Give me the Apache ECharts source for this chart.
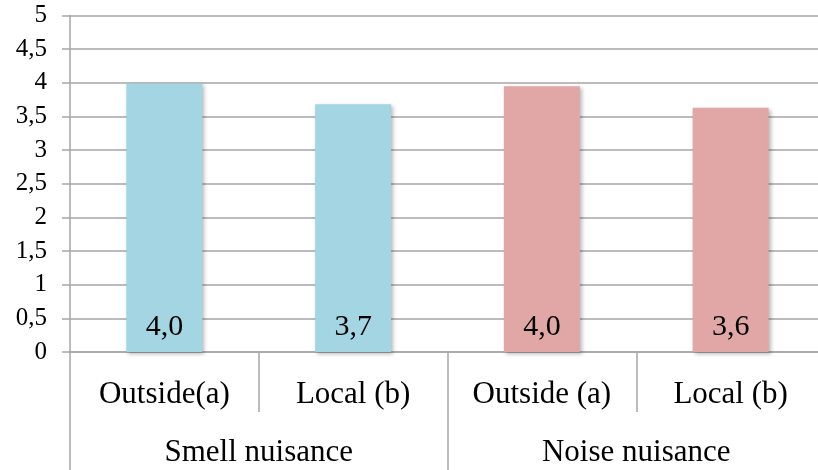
<!DOCTYPE html>
<html>
<head>
<meta charset="utf-8">
<script src="https://cdn.jsdelivr.net/npm/echarts@6/dist/echarts.min.js"></script>
<style>
  html, body { margin: 0; padding: 0; background: #ffffff; }
  #chart { width: 818px; height: 470px; }
</style>
</head>
<body>
<div id="chart"></div>
<script>
// Mean nuisance scores by respondent origin
const categories = ['Outside(a)', 'Local (b)', 'Outside (a)', 'Local (b)'];
const groups = ['Smell nuisance', 'Noise nuisance'];
const scores = [3.99, 3.68, 3.95, 3.63];
const yTicks = { min: 0, max: 5, step: 0.5 };

const BLUE = '#a3d5e3';
const PINK = '#e1a7a6';
const GRID = '#a6a6a6';
const FONT = '"Liberation Serif", "Times New Roman", serif';

const barColors = [BLUE, BLUE, PINK, PINK];
const comma = v => String(v).replace('.', ',');

const chart = echarts.init(document.getElementById('chart'), null, { renderer: 'canvas' });

chart.setOption({
  animation: false,
  backgroundColor: '#ffffff',
  // plot area runs slightly past the right edge of the canvas
  grid: {
    left: 70, width: 755, top: 15.5, height: 336.5,
    containLabel: false, outerBoundsMode: 'none'
  },
  xAxis: [
    {
      type: 'category',
      data: categories,
      position: 'bottom',
      axisLine: { show: true, lineStyle: { color: GRID, width: 1.5 } },
      axisTick: { show: true, interval: 0, length: 60, lineStyle: { color: GRID, width: 1.5 } },
      axisLabel: {
        interval: 0, margin: 27, fontFamily: FONT, fontSize: 31,
        lineHeight: 31, color: '#000000'
      },
      splitLine: { show: false }
    },
    {
      type: 'category',
      data: groups,
      position: 'bottom',
      axisLine: { show: false },
      axisTick: { show: true, interval: 0, length: 118, lineStyle: { color: GRID, width: 1.5 } },
      axisLabel: {
        interval: 0, margin: 85, fontFamily: FONT, fontSize: 31,
        lineHeight: 31, color: '#000000'
      },
      splitLine: { show: false }
    }
  ],
  yAxis: {
    type: 'value',
    min: yTicks.min,
    max: yTicks.max,
    interval: yTicks.step,
    axisLine: { show: true, lineStyle: { color: GRID, width: 1.5 } },
    axisTick: { show: true, length: 8, lineStyle: { color: GRID, width: 1.5 } },
    axisLabel: {
      margin: 23, fontFamily: FONT, fontSize: 25, color: '#000000',
      formatter: v => comma(v)
    },
    splitLine: { show: true, lineStyle: { color: GRID, width: 1.5 } }
  },
  series: [
    {
      type: 'bar',
      xAxisIndex: 0,
      barWidth: 76,
      data: scores.map((v, i) => ({ value: v, itemStyle: { color: barColors[i] } })),
      itemStyle: {
        shadowColor: 'rgba(0,0,0,0.28)',
        shadowBlur: 4,
        shadowOffsetX: 2,
        shadowOffsetY: 2
      },
      label: {
        show: true,
        position: 'insideBottom',
        distance: 10,
        fontFamily: FONT,
        fontSize: 30,
        color: '#000000',
        formatter: p => comma(p.value.toFixed(1))
      }
    }
  ]
});
</script>
</body>
</html>
